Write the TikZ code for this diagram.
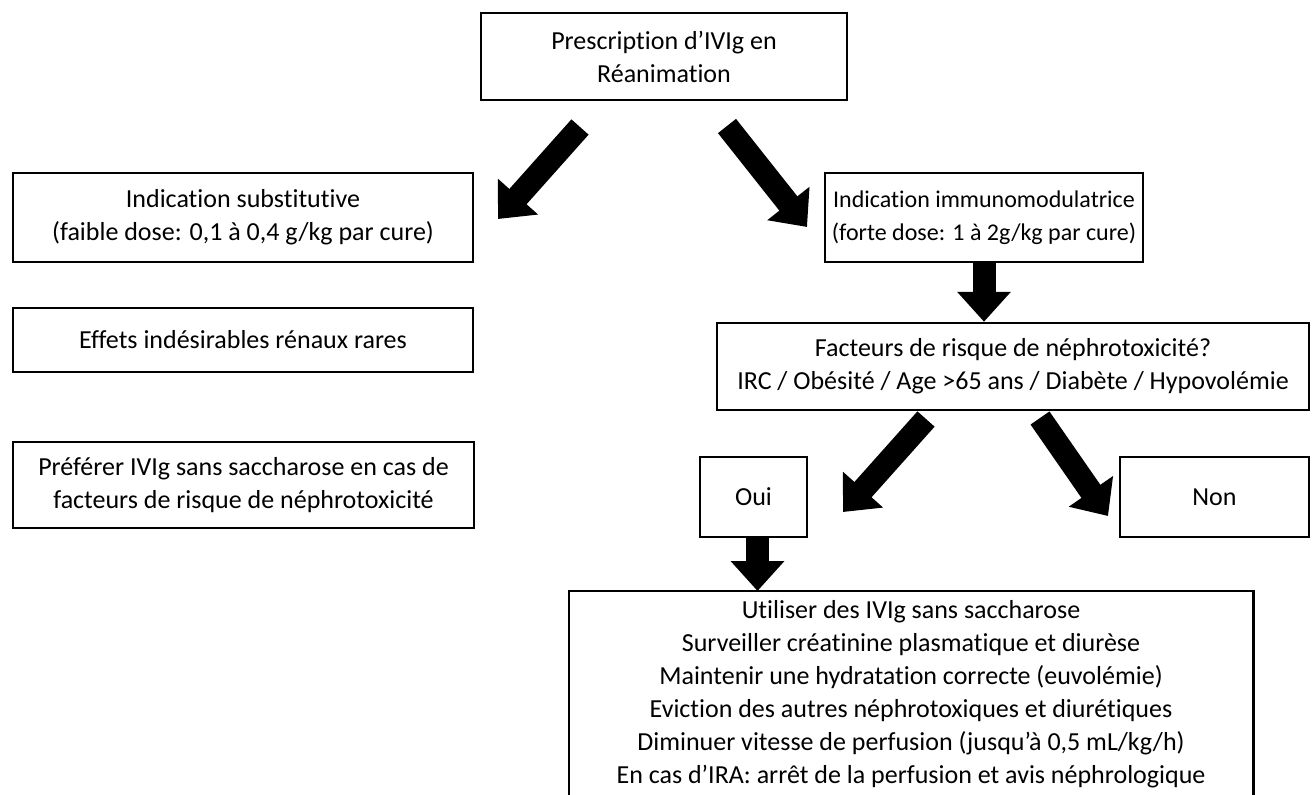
\documentclass[tikz,border=0pt]{standalone}
\usepackage{fontspec}
\setmainfont{Carlito}[Ligatures=NoCommon]
\usetikzlibrary{arrows.meta}
\tikzset{
  box/.style={draw, line width=1.25pt, align=center, inner sep=0pt,
    font=\fontsize{13}{16.5}\selectfont},
  smallbox/.style={box, line width=1pt},
  bigarrow/.style={line width=11.5pt, -{Triangle[length=15pt, width=26pt]}},
}
\begin{document}
\begin{tikzpicture}[x=0.5pt, y=-0.5pt]
\path[use as bounding box, clip] (0,0) rectangle (1312,794);
\node[box, minimum width=183pt, minimum height=43.5pt] (presc) at (664,56.5) {Prescription d’IVIg en\\Réanimation};
\node[box, minimum width=230pt, minimum height=44.5pt] (subst) at (243,217.5) {Indication substitutive\\(faible dose: 0,1 à 0,4 g/kg par cure)};
\node[box, minimum width=230pt, minimum height=32pt] (effets) at (243,340) {Effets indésirables rénaux rares};
\node[box, minimum width=230.5pt, minimum height=43pt] (pref) at (243.5,485) {Préférer IVIg sans saccharose en cas de\\facteurs de risque de néphrotoxicité};
\node[box, minimum width=159pt, minimum height=44.5pt, font=\fontsize{12}{16.5}\selectfont] (immuno) at (984,217.5) {Indication immunomodulatrice\\(forte dose: 1 à 2g/kg par cure)};
\node[box, minimum width=296pt, minimum height=43.5pt] (fact) at (1013,366.5) {Facteurs de risque de néphrotoxicité?\\IRC / Obésité / Age >65 ans / Diabète / Hypovolémie};
\node[smallbox, minimum width=53.5pt, minimum height=40pt] (oui) at (753.5,497) {Oui};
\node[smallbox, minimum width=94.5pt, minimum height=40pt] (non) at (1214.5,497) {Non};
\node[box, draw=none, minimum width=341pt, inner ysep=4pt, anchor=north] (res) at (911,591) {Utiliser des IVIg sans saccharose\\Surveiller créatinine plasmatique et diurèse\\Maintenir une hydratation correcte (euvolémie)\\Eviction des autres néphrotoxiques et diurétiques\\Diminuer vitesse de perfusion (jusqu’à 0,5 mL/kg/h)\\En cas d’IRA: arrêt de la perfusion et avis néphrologique};
\draw[line width=1.25pt] (res.north west) rectangle ([yshift=-130pt]res.north east);
\coordinate (a1) at (580,127);
\coordinate (a1t) at (498,219);
\coordinate (a2) at (727,126);
\coordinate (a2t) at (807,227);
\coordinate (b1) at (926,419);
\coordinate (b1t) at (843,512);
\coordinate (b2) at (1040,418);
\coordinate (b2t) at (1108,516);
\draw[bigarrow] (a1) -- (a1t);
\draw[bigarrow] (a2) -- (a2t);
\draw[bigarrow] (immuno.south) -- (immuno.south |- fact.north);
\draw[bigarrow] (b1) -- (b1t);
\draw[bigarrow] (b2) -- (b2t);
\draw[bigarrow] ([xshift=2pt]oui.south) -- ([xshift=2pt]oui.south |- res.north);
\end{tikzpicture}
\end{document}
